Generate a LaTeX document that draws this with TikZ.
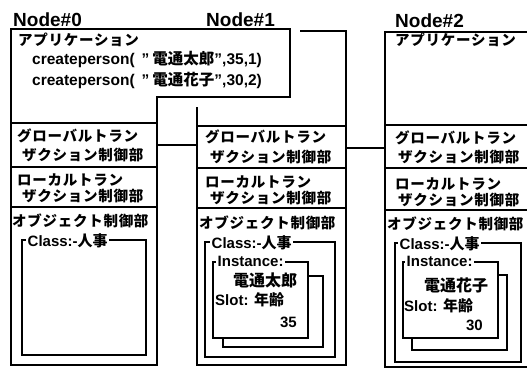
\documentclass[tikz,border=0pt]{standalone}
\usepackage{fontspec}
\setmainfont{Liberation Sans}
\newfontfamily\jp{Noto Sans CJK JP}[LetterSpace=5]
\newfontfamily\jpn{Noto Sans CJK JP}
\begin{document}
\begin{tikzpicture}[x=1pt,y=-1pt,
  frame/.style={line width=2.8pt, line join=miter},
  sepline/.style={line width=2.4pt},
  inbox/.style={line width=2.2pt, fill=white},
  conn/.style={line width=2.4pt},
  jt/.style={anchor=base west, inner sep=0pt, font=\jp\bfseries\fontsize{14.5}{15}\selectfont},
  title/.style={anchor=base west, inner sep=0pt, font=\bfseries\fontsize{19}{20}\selectfont},
  lt/.style={anchor=base west, inner sep=0pt, font=\bfseries\fontsize{15}{16}\selectfont},
  tag/.style={lt, fill=white, inner xsep=1.5pt, inner ysep=1pt},
  nm/.style={anchor=base west, inner sep=0pt, font=\jpn\bfseries\fontsize{16}{17}\selectfont}
]
\useasboundingbox (0,0) rectangle (527,369);
\clip (0,0) rectangle (527,369);

% ---------- Node#0 ----------
\node[title] (t0) at (13,27) {Node\#0};
\draw[frame] (157,97) -- (290,97) -- (290,29) -- (11,29) -- (11,365) -- (157,365) -- cycle;
\draw[sepline] (11,123) -- (157,123);
\draw[sepline] (11,167) -- (157,167);
\draw[sepline] (11,207) -- (157,207);
\node[jt] (a0) at (18,46) {アプリケーション};
\node[anchor=base west, inner sep=0pt, font=\bfseries\fontsize{15.5}{16}\selectfont] (cp1) at (32,65)
  {createperson(\hspace{7pt}"\hspace{3pt}{\jpn 電通太郎}",35,1)};
\node[anchor=base west, inner sep=0pt, font=\bfseries\fontsize{15.5}{16}\selectfont] (cp2) at (32,85)
  {createperson(\hspace{7pt}"\hspace{3pt}{\jpn 電通花子}",30,2)};
\node[jt] (g0a) at (17,141) {グローバルトラン};
\node[jt] (g0b) at (22,160) {ザクション制御部};
\node[jt] (l0a) at (17,185) {ローカルトラン};
\node[jt] (l0b) at (22,201) {ザクション制御部};
\node[jt] (o0) at (12,226) {オブジェクト制御部};
\draw[inbox] (22,240) rectangle (146,355);
\node[tag] (c0) at (26,246) {Class:-{\jpn 人事}};

% ---------- Node#1 ----------
\node[title] (t1) at (206,27) {Node\#1};
\draw[frame] (300,31) -- (346,31) -- (346,365) -- (197,365) -- (197,107);
\draw[sepline] (197,126) -- (346,126);
\draw[sepline] (197,168) -- (346,168);
\draw[sepline] (197,208) -- (346,208);
\node[jt] (g1a) at (205,142) {グローバルトラン};
\node[jt] (g1b) at (210,162) {ザクション制御部};
\node[jt] (l1a) at (205,187) {ローカルトラン};
\node[jt] (l1b) at (210,203) {ザクション制御部};
\node[jt] (o1) at (199,228) {オブジェクト制御部};
\draw[inbox] (205,242) rectangle (335,357);
\node[tag] (c1) at (210,248) {Class:-{\jpn 人事}};
\draw[inbox] (223,276) rectangle (323,347);
\draw[inbox] (213,262) rectangle (308,338);
\node[tag] (i1) at (216,266) {Instance:};
\node[nm] (n1) at (233,286) {電通太郎};
\node[lt] (s1) at (215,305) {Slot: {\jpn 年齢}};
\node[lt, anchor=base east] (v1) at (297,327) {35};

% ---------- Node#2 ----------
\node[title] (t2) at (395,28) {Node\#2};
\draw[frame] (530,32) -- (385,32) -- (385,367) -- (530,367);
\draw[sepline] (385,125) -- (530,125);
\draw[sepline] (385,168) -- (530,168);
\draw[sepline] (385,210) -- (530,210);
\node[jt] (a2) at (395,46) {アプリケーション};
\node[jt] (g2a) at (395,143) {グローバルトラン};
\node[jt] (g2b) at (398,162) {ザクション制御部};
\node[jt] (l2a) at (395,189) {ローカルトラン};
\node[jt] (l2b) at (398,205) {ザクション制御部};
\node[jt] (o2) at (387,229) {オブジェクト制御部};
\draw[inbox] (395,243) rectangle (521,362);
\node[tag] (c2) at (398,249) {Class:-{\jpn 人事}};
\draw[inbox] (412,275) rectangle (507,350);
\draw[inbox] (403,262) rectangle (498,338);
\node[tag] (i2) at (405,266) {Instance:};
\node[nm] (n2) at (424,291) {電通花子};
\node[lt] (s2) at (404,311) {Slot: {\jpn 年齢}};
\node[lt, anchor=base east] (v2) at (483,330) {30};

% ---------- connectors ----------
\coordinate (e01a) at (157,145);
\coordinate (e01b) at (197,145);
\coordinate (e12a) at (346,148);
\coordinate (e12b) at (385,148);
\draw[conn] (e01a) -- (e01b);
\draw[conn] (e12a) -- (e12b);
\end{tikzpicture}
\end{document}
